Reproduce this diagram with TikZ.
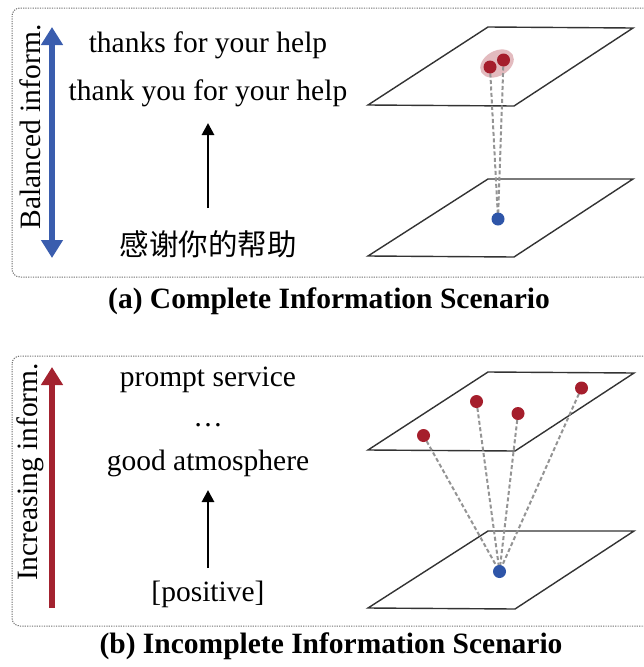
\documentclass[tikz,border=0pt]{standalone}
\usepackage{fontspec}
\setmainfont{Liberation Serif}
\newfontfamily\cjk{Noto Sans CJK SC}
\usetikzlibrary{arrows.meta,shapes.geometric}

\definecolor{dotred}{HTML}{A51E2C}
\definecolor{dotblue}{HTML}{2E55A8}
\definecolor{arrblue}{HTML}{3A5DAE}
\definecolor{arrred}{HTML}{A3222F}
\definecolor{framegray}{HTML}{707070}

\tikzset{
  panel/.style={draw=framegray, line width=1pt, dash pattern=on 1.2pt off 1.2pt, rounded corners=8pt},
  plane/.style={draw=black!80, line width=1.4pt, fill=white, line join=miter},
  link/.style={draw=black!42, line width=2pt, dash pattern=on 4pt off 2.5pt},
  rdot/.style={circle, fill=dotred, inner sep=0pt, minimum size=13pt},
  bdot/.style={circle, fill=dotblue, inner sep=0pt, minimum size=13pt},
  txt/.style={font=\fontsize{29.5}{32}\selectfont, inner sep=0pt},
  side/.style={font=\fontsize{29.5}{30}\selectfont, inner sep=0pt, rotate=90},
  captext/.style={font=\fontsize{29.5}{32}\selectfont\bfseries, inner sep=0pt},
  step arrow/.style={line width=2.8pt, -{Triangle[width=12pt,length=12pt]}},
}

\begin{document}
\begin{tikzpicture}[x=1pt, y=-1pt]
\useasboundingbox (0,0) rectangle (644,667);
\clip (0,0) rectangle (644,667);

% ---------- (a) complete information ----------
\draw[panel] (12,8) rectangle (680,277);

\draw[line width=5.5pt, arrblue, {Triangle[width=21pt,length=18pt]}-{Triangle[width=21pt,length=18pt]}]
  (52,27) -- (52,258);
\node[side] (la) at (30,127) {Balanced inform.};

\node[txt] (ta1) at (208,45) {thanks for your help};
\node[txt] (ta2) at (208,93) {thank you for your help};
\node[txt] (sa) at (208,244) {\cjk 感谢你的帮助};
\coordinate (aa0) at (208,208);
\coordinate (aa1) at (208,123);
\draw[step arrow] (aa0) -- (aa1);

% planes
\draw[plane] (368,105) -- (514,106) -- (633,28) -- (488,27) -- cycle;
\draw[plane] (368,256) -- (514,257) -- (633,179) -- (488,179) -- cycle;

\node[ellipse, fill=dotred, fill opacity=0.3, minimum width=36pt, minimum height=25pt,
      inner sep=0pt, rotate=30] (ga) at (497,63.5) {};
\coordinate (ra1) at (490,67);
\coordinate (ra2) at (503.5,60);
\coordinate (ba) at (498,219);
\draw[link] (ra1) -- (ba);
\draw[link] (ra2) -- (ba);
\node[rdot] (pa1) at (ra1) {};
\node[rdot] (pa2) at (ra2) {};
\node[bdot] (qa) at (ba) {};

\node[captext] (ca) at (329,301) {(a) Complete Information Scenario};

% ---------- (b) incomplete information ----------
\draw[panel] (12,356) rectangle (680,626);

\draw[line width=5.5pt, arrred, -{Triangle[width=21pt,length=18pt]}]
  (52,608) -- (52,367);
\node[side] (lb) at (30,472) {Increasing inform.};

\node[txt] (tb1) at (208,380) {prompt service};
\node[txt] (tb2) at (208,425) {\dots};
\node[txt] (tb3) at (208,463) {good atmosphere};
\node[txt] (sb) at (208,594) {[positive]};
\coordinate (ab0) at (208,568);
\coordinate (ab1) at (208,490);
\draw[step arrow] (ab0) -- (ab1);

\draw[plane] (368,450) -- (515,451) -- (634,373) -- (488,372) -- cycle;
\draw[plane] (368,608) -- (515,609) -- (634,531) -- (488,531) -- cycle;

\coordinate (rb1) at (423.5,435.5);
\coordinate (rb2) at (476.5,401.5);
\coordinate (rb3) at (518,413.5);
\coordinate (rb4) at (581.5,388);
\coordinate (bb) at (499.5,571.5);
\foreach \p in {rb1,rb2,rb3,rb4} \draw[link] (\p) -- (bb);
\node[rdot] (pb1) at (rb1) {};
\node[rdot] (pb2) at (rb2) {};
\node[rdot] (pb3) at (rb3) {};
\node[rdot] (pb4) at (rb4) {};
\node[bdot] (qb) at (bb) {};

\node[captext] (cb) at (331,646) {(b) Incomplete Information Scenario};
\end{tikzpicture}
\end{document}
